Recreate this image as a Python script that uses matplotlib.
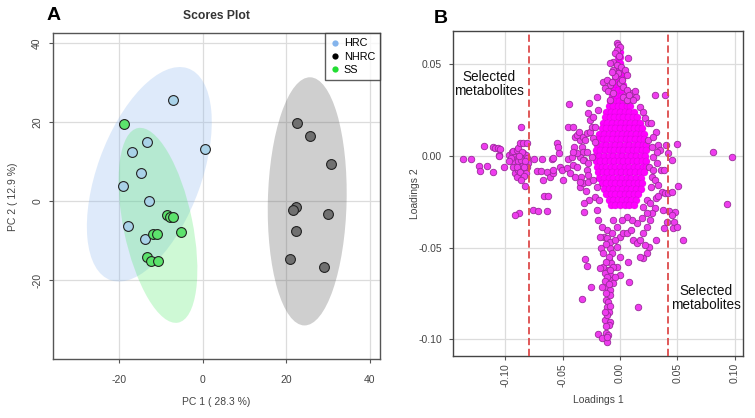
import matplotlib
matplotlib.use("Agg")
import matplotlib.pyplot as plt
import numpy as np
from matplotlib.patches import Ellipse
from matplotlib.lines import Line2D

plt.rcParams['font.family'] = ['Liberation Sans', 'DejaVu Sans']
plt.rcParams['axes.unicode_minus'] = False

# ---------------- Panel A data: PCA scores ----------------
groups = ["HRC", "NHRC", "SS"]
hrc_pc1 = [-7.1, 0.6, -13.4, -17.0, -14.9, -19.0, -12.8, -17.8, -13.8]
hrc_pc2 = [25.6, 13.2, 15.1, 12.4, 7.1, 3.8, 0.2, -6.3, -9.5]
nhrc_pc1 = [22.6, 25.8, 30.6, 22.4, 21.6, 29.9, 22.3, 21.0, 29.0]
nhrc_pc2 = [19.7, 16.5, 9.5, -1.4, -2.2, -3.3, -7.6, -14.7, -16.6]
ss_pc1 = [-18.9, -8.5, -7.85, -7.2, -5.3, -11.9, -11.0, -13.4, -12.5, -10.7]
ss_pc2 = [19.5, -3.4, -4.05, -3.9, -7.8, -8.3, -8.3, -14.2, -15.2, -15.2]
a_ticks = [-20, 0, 20, 40]
a_ticklabels = ["-20", "0", "20", "40"]

# ---------------- Panel B data: loadings (x1000) ----------------
left_arm = [(-136.4,-1.5),(-130.1,-1.5),(-122.5,-5.3),(-122.2,-8.2),(-118.7,5.6),(-116.1,-5.3),
            (-110.9,4.9),(-108.9,4.2),(-106.0,4.2),(-104.5,3.6),(-110.3,-8.7),(-105.7,0.5),(-105.1,0),
            (-101.0,-5.8),(-96.4,0.5),(-94.3,2.4),(-92.9,2.9),(-90.0,3.3),(-88.5,4.2),(-91.4,-0.4),
            (-89.4,-1.8),(-87.7,-4.0),(-85.6,-5.5),(-86.5,16.0),(-87.1,7.3),(-84.2,7.3),(-81.3,6.9),
            (-84.2,1.5),(-82.2,0.5),(-80.7,-1.3),(-79.8,-4.0),(-81.3,-5.8),(-82.7,-7.7),(-81.9,-9.5),
            (-82.4,-16.4),(-88.2,-31.3),(-91.7,-32.2),(-92.9,-6.0),(-91.4,-9.5),(-90.0,-11.3),(-88.5,-7.7),
            (-93,-3),(-89,-3),(-86,-2),(-85,2),(-88,0),(-90,-6),(-87,-9),(-84,-11),(-86,-13),(-83,-3),
            (-95,-1),(-97,-3),(-84,-6)]
middle_band = [(-75.5,-29.5),(-71.1,-29.9),(-63.9,-30.1),(-74.9,-1.6),(-67.6,-1.5),(-72.6,-8.0),
               (-68.5,-8.2),(-67.3,-13.1),(-66.2,-21.9),(-62.7,-21.9),(-63.9,-8.6),(-59.5,-1.6),
               (-58.6,-1.3),(-61.0,-11.3),(-58.6,-9.5),(-58.1,-7.7),(-55.2,6.9),(-53.7,5.1),(-53.1,1.5),
               (-52.3,-5.8),(-50.8,-7.7),(-49.3,-13.1),(-46.4,-6.7),(-45.0,-1.8),(-43.5,-9.5),(-44.1,28.4),
               (-45.0,16.0),(-41.2,16.0),(-39.2,10.6),(-39.8,5.1),(-42.1,-0.4),(-40.6,-4.9),(-37.7,-5.8),
               (-34.8,-16.8),(-31.4,-30.6),(-33.4,-78.3),(-30.5,-56.3),(-28.4,-59.9),(-25.3,-71.8),
               (-34.8,8.7),(-33.4,5.1),(-31.9,2.4),(-31.4,-2.2),(-29.0,-7.7),(-34.0,-11.3),(-31.9,-14.6),
               (-29.6,-18.9),(-27.6,-14.0),
               (-37.7,11.5),(-35.4,13.3),(-32.5,10.6),(-30.5,8.7),(-28.4,12.4),(-26.1,13.3),(-23.8,9.7),
               (-21.8,7.8),(-34.8,-0.4),(-31.9,-2.2),(-27.6,-4.0),(-24.7,-0.4),(-29.0,2.4),(-37.7,1.5),
               (-40.6,2.4),(-39.2,-11.3),(-34.8,-14.0),(-27.6,-10.4),(-23.2,-13.1),(-20.3,-16.8),
               (-21.8,-22.2),(-26.7,-24.0),(-31.4,-25.9)]
upper_spike = [(-26.7,28.8),(-27.6,23.3),(-26.1,19.7),(-23.2,21.5),(-24.7,16.0),(-21.8,16.0),
               (-20.3,32.4),(-18.9,25.1),(-15.1,40.6),(-11.6,41.5),(-8.7,38.8),(-13.1,37.0),(-10.2,35.2),
               (-2.9,61.6),(-1.5,60.7),(0,59.7),(-2.3,57.9),(-4.4,56.1),(-0.6,54.3),(-5.8,51.5),
               (-2.9,49.7),(0.6,48.8),(-1.5,45.2),(-4.4,43.4),(-5.8,47.0),(0,39.7),(-8.7,50.6),
               (-7.3,46.1),(1.5,41.5),(2.9,37.9),(4.4,47.0),(5.8,44.3),(7.3,53.4),
               (-8.7,30.6),(-5.8,34.2),(-7.3,40.6),(2.9,32.4),(5.8,30.6),(10.2,34.2)]
right_side = [(5.8,36.1),(8.1,33.3),(13.1,35.2),(13.9,32.4),(11.6,30.6),(17.4,26.6),(20.3,24.2),
              (21.8,20.6),(24.7,17.9),(26.7,17.9),(30.5,33.3),(39.2,33.3),(31.4,13.3),(33.4,6.0),
              (34.8,3.3),(40.1,6.0),(42.1,1.5),(45.0,-2.2),(49.9,6.6),(29.0,-0.4),(31.9,-4.0),
              (35.7,-7.7),(38.6,-7.7),(27.6,-11.3),(30.5,-13.1),(33.4,-15.8),(36.3,-19.5),(39.2,-20.4),
              (42.1,-20.0),(45.0,-19.5),(50.2,-16.2),(31.4,-23.1),(33.4,-22.0),(30.5,-28.6),(37.2,-29.5),
              (42.9,-29.9),(48.2,-30.8),(45.3,-32.2),(47.3,-35.9),(45.9,-39.5),(49.3,-38.6),(41.2,-35.9),
              (38.3,-39.5),(55.2,-45.9),(31.4,-45.9),(25.5,-49.9),(23.2,-53.2),(20.3,-55.9),(17.4,-55.0),
              (21.8,-48.6),(15.4,-82.3),(8.1,-68.7),(7.3,-57.7),(0,-65.0),(-2.9,-60.5),(81.3,2.4),
              (97.8,-0.4),(92.9,-26.2),
              (24.7,8.7),(27.6,5.1),(29.0,10.6),(31.9,2.4),(25.5,-5.8),(28.4,-7.7),(26.7,-16.8),
              (23.2,-24.0),(20.3,-27.7),(26.1,-25.9)]
lower_tail = [(-8.7,-50.5),(-7.3,-53.2),(-9.3,-56.8),(-8.1,-58.7),(-6.4,-60.5),(-10.2,-62.3),
              (-8.7,-65.0),(-7.3,-67.8),(-11.6,-71.4),(-8.7,-73.2),(-12.5,-78.7),(-10.2,-79.6),
              (-11.6,-82.3),(-9.3,-85.1),(-13.1,-89.3),(-8.7,-90.5),(-12.2,-96.9),(-10.5,-97.8),
              (-11.0,-101.5),(-18.9,-97.3),(-16.0,-99.6),(-16.8,-50.5),(-15.1,-53.2),(-14.5,-60.5),
              (-4.4,-65.9),(-5.8,-69.6),(-17.4,-61.4),(-16.0,-71.8),(-13.1,-63.7),(-13.9,-44.1),
              (-11.6,-40.4),(-17.4,-44.1),(-18.9,-35.0),(-16.0,-38.6),(-20.3,-29.5),(-18.0,-24.0),
              (-11,-45),(-9,-47),(-12,-48),(-10,-55),(-12,-58),(-9,-62),(-11,-66),(-13,-68),(-10,-70),
              (-9,-76),(-12,-75),(-11,-87),(-10,-92),(-12,-93),(-11,-99),(-9,-82),(-13,-85),
              (0,-44.1),(2.9,-42.3),(5.8,-42.3),(9.3,-40.4),(11.6,-45.9),(14.5,-47.7),(17.4,-45.9),
              (20.3,-42.3),(23.2,-38.6),(26.1,-35.0),(27.6,-31.3),(23.2,-31.3),(18.9,-34.1),(14.5,-36.8),
              (10.2,-35.0),(5.8,-33.2),(1.5,-35.0),(-2.9,-38.6),(-5.8,-35.0),(-7.3,-42.3),(-4.4,-45.9),
              (-2.9,-49.5),(0,-55.0)]
# dense core: loadings 2 level -> loadings 1 values
core_rows = [
    (57, [-2, 0]), (54, [-2, 0]), (51, [-3, 0]), (48, [-3, 1]), (45, [-4, 0, 2]), (42, [-4, 0, 2]),
    (39, [-5, -1, 3]), (36, [-6, -2, 2]), (33, [-7, -3, 1, 5]), (30, [-9, -5, -1, 3, 7]),
    (27, [-10, -6, -2, 2, 6, 9]), (24, [-12, -8, -4, 0, 4, 8, 12]),
    (21, [-13, -9, -5, -1, 3, 7, 11, 15]), (18, [-15, -11, -7, -3, 1, 5, 9, 13, 17]),
    (15, [-16, -12, -8, -4, 0, 4, 8, 12, 16, 19]),
    (12, [-18, -14, -10, -6, -2, 2, 6, 10, 14, 18, 21]),
    (9, [-19, -15, -11, -7, -3, 1, 5, 9, 13, 17, 21]),
    (6, [-20, -16, -12, -8, -4, 0, 4, 8, 12, 16, 20, 23]),
    (3, [-21, -17, -13, -9, -5, -1, 3, 7, 11, 15, 19, 23]),
    (0, [-22, -18, -14, -10, -6, -2, 2, 6, 10, 14, 18, 22]),
    (-3, [-21, -17, -13, -9, -5, -1, 3, 7, 11, 15, 19, 23]),
    (-6, [-20, -16, -12, -8, -4, 0, 4, 8, 12, 16, 20, 23]),
    (-9, [-19, -15, -11, -7, -3, 1, 5, 9, 13, 17, 21]),
    (-12, [-18, -14, -10, -6, -2, 2, 6, 10, 14, 18]),
    (-15, [-16, -12, -8, -4, 0, 4, 8, 12, 16, 19]),
    (-18, [-14, -10, -6, -2, 2, 6, 10, 14, 18]),
    (-21, [-12, -8, -4, 0, 4, 8, 12, 16]),
    (-24, [-10, -6, -2, 2, 6, 10, 14]),
    (-27, [-8, -4, 0, 4, 8, 12]),
]
cutoffs = [-0.079, 0.0415]
b_xticks = [-0.10, -0.05, 0.00, 0.05, 0.10]
b_xticklabels = ["-0.10", "-0.05", "0.00", "0.05", "0.10"]
b_yticks = [-0.10, -0.05, 0.00, 0.05]
b_yticklabels = ["-0.10", "-0.05", "0.00", "0.05"]

# ---------------- figure ----------------
fig = plt.figure(figsize=(7.55, 4.18), dpi=100)
axA = fig.add_axes([0.0706, 0.1404, 0.4324, 0.7796])
axB = fig.add_axes([0.6004, 0.1483, 0.3841, 0.7775])

def conf_ellipse(x, y, color, alpha):
    x = np.asarray(x); y = np.asarray(y)
    cov = np.cov(x, y)
    vals, vecs = np.linalg.eigh(cov)
    order = vals.argsort()[::-1]
    vals, vecs = vals[order], vecs[:, order]
    ang = np.degrees(np.arctan2(vecs[1, 0], vecs[0, 0]))
    k = np.sqrt(5.991)
    w, h = 2 * k * np.sqrt(vals)
    return Ellipse((x.mean(), y.mean()), w, h, angle=ang, facecolor=color,
                   alpha=alpha, edgecolor='none', zorder=1)

axA.add_patch(conf_ellipse(hrc_pc1, hrc_pc2, '#8ab6ee', 0.28))
axA.add_patch(conf_ellipse(nhrc_pc1, nhrc_pc2, '#5a5a5a', 0.29))
axA.add_patch(conf_ellipse(ss_pc1, ss_pc2, '#3de85a', 0.25))

axA.scatter(hrc_pc1, hrc_pc2, s=50, facecolor='#a9d2e8', edgecolor='#222222', linewidth=0.8, zorder=3)
axA.scatter(ss_pc1, ss_pc2, s=50, facecolor='#5ce36c', edgecolor='#222222', linewidth=0.8, zorder=3)
axA.scatter(nhrc_pc1, nhrc_pc2, s=50, facecolor='#707070', edgecolor='#222222', linewidth=0.8, zorder=3)

axA.set_xlim(-35.8, 42.4)
axA.set_ylim(-40, 42.5)
axA.set_xticks(a_ticks)
axA.set_xticklabels(a_ticklabels)
axA.set_yticks(a_ticks)
axA.set_yticklabels(a_ticklabels, rotation=90, va='center')
axA.grid(True, color='#dcdcdc', linewidth=0.9, zorder=0)
axA.set_axisbelow(True)
axA.tick_params(axis='x', length=3, pad=8, labelsize=7.5, colors='#555555', labelcolor='#444444')
axA.tick_params(axis='y', length=3, pad=5, labelsize=7.5, colors='#555555', labelcolor='#444444')
for sp in axA.spines.values():
    sp.set_color('#555555'); sp.set_linewidth(1.0)

handles = [Line2D([], [], marker='o', linestyle='none', markersize=4.5, markerfacecolor=c,
                  markeredgecolor='none') for c in ['#84b4ec', '#000000', '#22dd33']]
leg = axA.legend(handles, groups, loc='upper right', borderaxespad=0, fontsize=7.8,
                 frameon=True, fancybox=False, handletextpad=0.3, borderpad=0.45,
                 labelspacing=0.3, handlelength=1.0)
leg.get_frame().set_edgecolor('#333333')
leg.get_frame().set_linewidth(1.0)

fig.text(0.2870, 0.9624, 'Scores Plot', ha='center', va='center', fontsize=8.7, fontweight='bold', color='#333333')
fig.text(0.2870, 0.038, 'PC 1 ( 28.3 %)', ha='center', va='center', fontsize=7.5, color='#444444')
fig.text(0.017, 0.53, 'PC 2 ( 12.9 %)', ha='center', va='center', rotation=90, fontsize=7.5, color='#444444')
fig.text(0.061, 0.962, 'A', ha='left', va='center', fontsize=14, fontweight='bold')
fig.text(0.575, 0.955, 'B', ha='left', va='center', fontsize=14, fontweight='bold')

# ---------------- Panel B ----------------
pts = np.array(left_arm + middle_band + upper_spike + right_side + lower_tail) / 1000.0
core_pts = np.array([(x, yv) for yv, xs in core_rows for x in xs]) / 1000.0
axB.scatter(core_pts[:, 0], core_pts[:, 1], s=26, facecolor='#ff00ff',
            edgecolor=(0.6, 0.1, 0.6, 0.25), linewidth=0.5, zorder=3)
axB.scatter(pts[:, 0], pts[:, 1], s=22, facecolor='#ee3cee',
            edgecolor='#9a2a9a', linewidth=0.6, zorder=3.5)

for c in cutoffs:
    axB.axvline(c, color='#dd4b4b', linewidth=1.3, linestyle=(0, (4, 2)), zorder=4)

axB.text(-0.1138, 0.0391, 'Selected\nmetabolites', ha='center', va='center', fontsize=9.8,
         color='#111111', linespacing=1.0, zorder=5)
axB.text(0.0749, -0.0773, 'Selected\nmetabolites', ha='center', va='center', fontsize=9.8,
         color='#111111', linespacing=1.0, zorder=5)

axB.set_xlim(-0.1452, 0.1074)
axB.set_ylim(-0.1092, 0.0682)
axB.set_xticks(b_xticks)
axB.set_xticklabels(b_xticklabels, rotation=90)
axB.set_yticks(b_yticks)
axB.set_yticklabels(b_yticklabels)
axB.grid(True, color='#dcdcdc', linewidth=0.9, zorder=0)
axB.set_axisbelow(True)
axB.tick_params(axis='x', length=3, pad=2, labelsize=7.5, colors='#555555', labelcolor='#444444')
axB.tick_params(axis='y', length=3, pad=5, labelsize=7.5, colors='#555555', labelcolor='#444444')
for sp in axB.spines.values():
    sp.set_color('#444444'); sp.set_linewidth(1.0)

fig.text(0.792, 0.043, 'Loadings 1', ha='center', va='center', fontsize=7.5, color='#444444')
fig.text(0.5497, 0.536, 'Loadings 2', ha='center', va='center', rotation=90, fontsize=7.5, color='#444444')

fig.savefig('out.png', dpi=100)
